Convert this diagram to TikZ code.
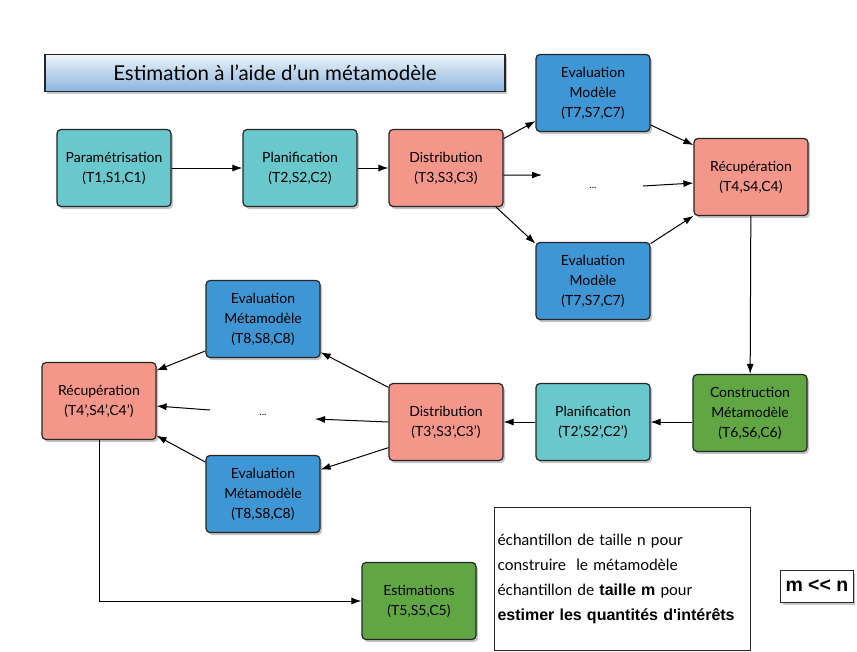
\documentclass[tikz,border=0pt]{standalone}
\usepackage{fontspec}
\setmainfont{Lato}
\newfontfamily\arialfont{Liberation Sans}
\usetikzlibrary{shadows,arrows.meta}
\definecolor{turquoise}{RGB}{104,200,204}
\definecolor{saumon}{RGB}{244,150,138}
\definecolor{bleu}{RGB}{62,150,212}
\definecolor{vert}{RGB}{96,166,66}
\definecolor{ciel}{RGB}{138,180,222}
\begin{document}
\begin{tikzpicture}[x=1pt,y=-1pt,
  ombre/.style={drop shadow={opacity=0.45,shadow xshift=2pt,shadow yshift=-2.5pt}},
  boite/.style={draw=black!85,line width=1.2pt,rounded corners=4pt,minimum width=114pt,minimum height=77pt,inner sep=2pt,align=center,font=\fontsize{14}{20}\selectfont,ombre},
  fleche/.style={->,>={Latex[length=10pt,width=7pt]},line width=1pt}]
\useasboundingbox[fill=white] (0,0) rectangle (857,651);
% titre
\node[draw=black!85,line width=1.2pt,top color=ciel!15,bottom color=ciel,minimum width=460pt,minimum height=37pt,font=\fontsize{20.5}{24}\selectfont,ombre] (titre) at (275,73) {Estimation à l'aide d'un métamodèle};
% premiere ligne
\node[boite,fill=turquoise] (param)at(114,168){Paramétrisation\\(T1,S1,C1)};
\node[boite,fill=turquoise] (plan)at(300,168){Planification\\(T2,S2,C2)};
\node[boite,fill=saumon] (dist)at(446,168){Distribution\\(T3,S3,C3)};
\node[boite,fill=bleu] (evalA)at(593,93){Evaluation\\Modèle\\(T7,S7,C7)};
\node[boite,fill=bleu] (evalB)at(593,281){Evaluation\\Modèle\\(T7,S7,C7)};
\node[boite,fill=saumon] (recup)at(751,177){Récupération\\(T4,S4,C4)};
\node (pts)at(593,188){...};
\coordinate (pA)at(542,175);
\coordinate (pB)at(643,186);
% deuxieme ligne
\node[boite,fill=vert] (constr)at(750,413){Construction\\Métamodèle\\(T6,S6,C6)};
\node[boite,fill=turquoise] (plan2)at(593,422){Planification\\(T2',S2',C2')};
\node[boite,fill=saumon] (dist2)at(446,422){Distribution\\(T3',S3',C3')};
\node[boite,fill=bleu] (metaA)at(263,319){Evaluation\\Métamodèle\\(T8,S8,C8)};
\node[boite,fill=bleu] (metaB)at(263,494){Evaluation\\Métamodèle\\(T8,S8,C8)};
\node[boite,fill=saumon] (recup2)at(99,401){Récupération\\(T4',S4',C4')};
\node (pts2)at(263,415){...};
\coordinate (pC)at(315,419);
\coordinate (pD)at(210,410);
\node[boite,fill=vert] (estim)at(419,601){Estimations\\(T5,S5,C5)};
% legende
\node[draw=black!85,fill=white,line width=1pt,minimum width=255pt,minimum height=143pt,text width=250pt,inner xsep=3pt,align=left,font=\fontsize{15.5}{25}\selectfont] (legende)at(622.5,578.5){échantillon de taille n pour\\construire~ le métamodèle\\échantillon de {\arialfont\bfseries\fontsize{16}{25}\selectfont taille m} pour\\{\arialfont\bfseries\fontsize{16}{25}\selectfont estimer les quantités d'intérêts}};
\node[draw=black!85,fill=white,line width=1pt,anchor=west,inner xsep=5pt,minimum height=32pt,font=\arialfont\bfseries\fontsize{19.5}{22}\selectfont,ombre] (mn)at(780,586){m << n};
% fleches
\draw[fleche] (param) -- (plan);
\draw[fleche] (plan) -- (dist);
\draw[fleche] (dist.27) -- (evalA.206);
\draw[fleche] (dist.-7) -- (pA);
\draw[fleche] (dist.-38) -- (evalB.147);
\draw[fleche] (evalA.-29) -- (recup.151);
\draw[fleche] (pB) -- (recup.186);
\draw[fleche] (evalB.33) -- (recup.-146);
\draw[fleche] (recup) -- (constr);
\draw[fleche] (constr.west|-plan2) -- (plan2);
\draw[fleche] (plan2) -- (dist2);
\draw[fleche] (dist2.149) -- (metaA.-30);
\draw[fleche] (dist2.west) -- (pC);
\draw[fleche] (dist2.-156) -- (metaB.23);
\draw[fleche] (metaA.-151) -- (recup2.28);
\draw[fleche] (pD) -- (recup2.-5);
\draw[fleche] (metaB.151) -- (recup2.-31);
\draw[fleche] (recup2) |- (estim);
\end{tikzpicture}
\end{document}
